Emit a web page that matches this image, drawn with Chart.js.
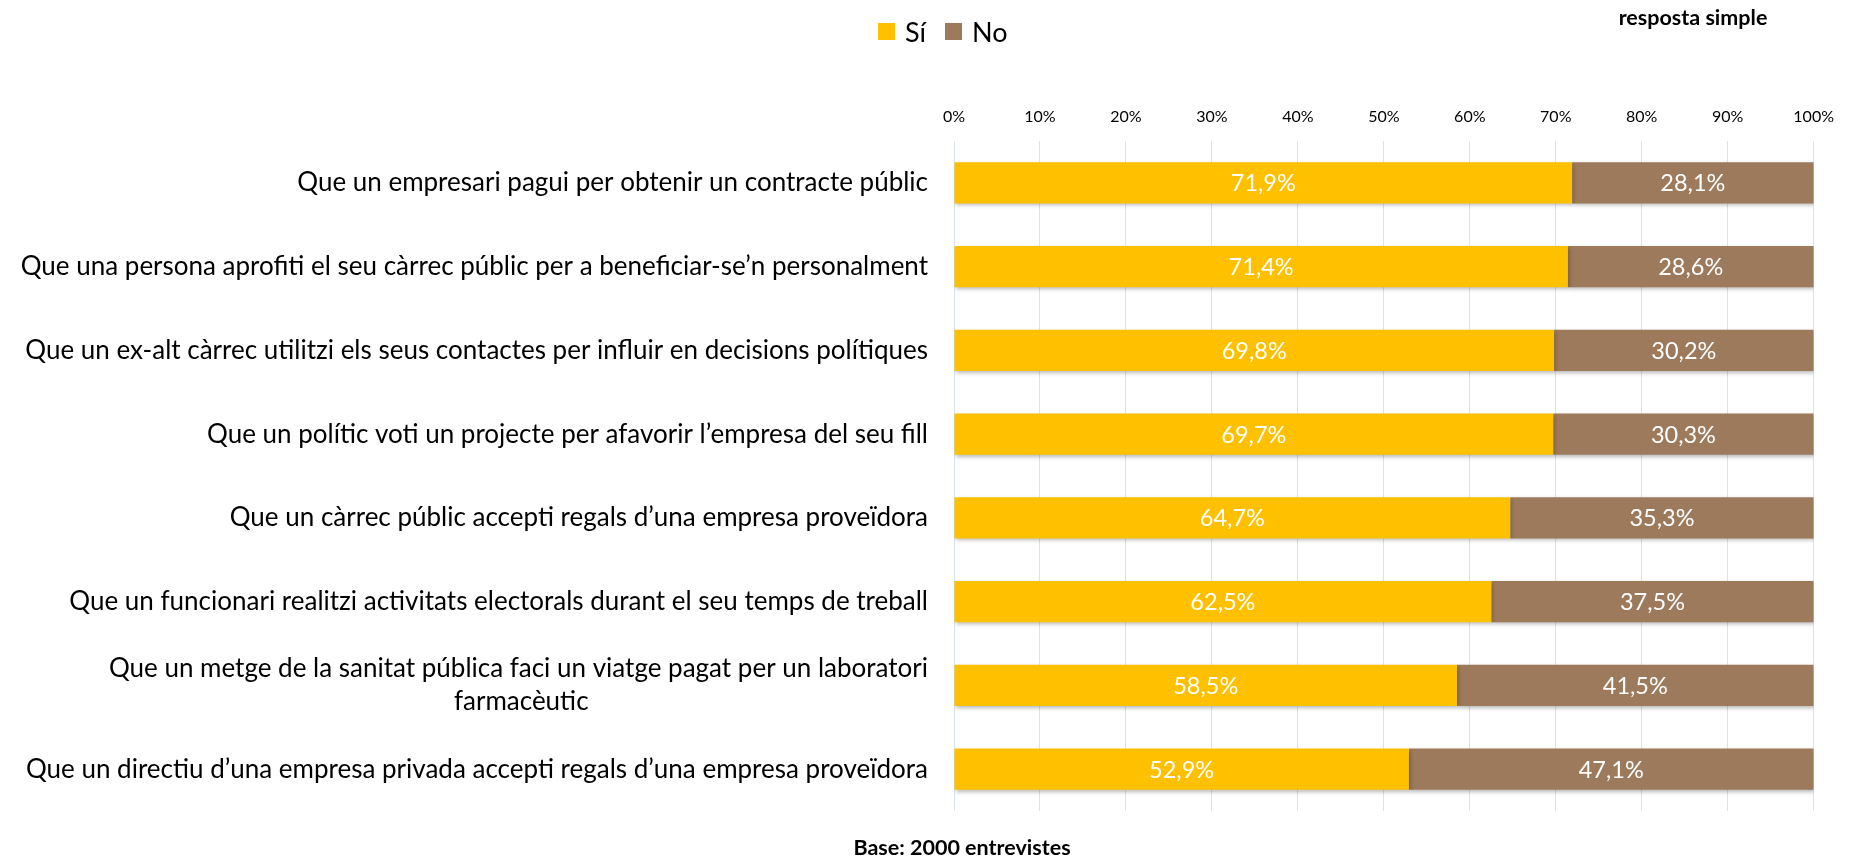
<!DOCTYPE html>
<html>
<head>
<meta charset="utf-8">
<script src="https://cdn.jsdelivr.net/npm/chart.js@4/dist/chart.umd.min.js"></script>
<style>
  html, body { margin: 0; padding: 0; background: #ffffff; }
  #wrap { position: relative; width: 1849px; height: 858px; }
</style>
</head>
<body>
<div id="wrap"><canvas id="c" width="1849" height="858"></canvas></div>
<script>
const categories = [
  "Que un empresari pagui per obtenir un contracte públic",
  "Que una persona aprofiti el seu càrrec públic per a beneficiar-se’n personalment",
  "Que un ex-alt càrrec utilitzi els seus contactes per influir en decisions polítiques",
  "Que un polític voti un projecte per afavorir l’empresa del seu fill",
  "Que un càrrec públic accepti regals d’una empresa proveïdora",
  "Que un funcionari realitzi activitats electorals durant el seu temps de treball",
  ["Que un metge de la sanitat pública faci un viatge pagat per un laboratori", "farmacèutic"],
  "Que un directiu d’una empresa privada accepti regals d’una empresa proveïdora"
];
const siValues = [71.9, 71.4, 69.8, 69.7, 64.7, 62.5, 58.5, 52.9];
const noValues = [28.1, 28.6, 30.2, 30.3, 35.3, 37.5, 41.5, 47.1];
const seriesNames = ["Sí", "No"];
const tickValues = [0, 10, 20, 30, 40, 50, 60, 70, 80, 90, 100];
const noteTopRight = "resposta simple";
const noteBottom = "Base: 2000 entrevistes";

const COLORS = ["#FFC000", "#9C7A5B"];
const FONT = "Lato, 'Open Sans', sans-serif";
const LABEL_FONT = "26px " + FONT;

const fmt = v => v.toFixed(1).replace(".", ",") + "%";

// Multi-line category labels: centre the following lines under the first one
// (as in the original), by padding them with trailing spaces.
const measureCtx = document.createElement("canvas").getContext("2d");
measureCtx.font = LABEL_FONT;
function centredLines(label) {
  if (!Array.isArray(label)) return label;
  const w0 = measureCtx.measureText(label[0]).width;
  const sp = measureCtx.measureText(" ").width;
  return label.map((line, i) => {
    if (i === 0) return line;
    const w = measureCtx.measureText(line).width;
    const n = Math.max(0, Math.round((w0 - w) / 2 / sp));
    return line + " ".repeat(n);
  });
}

const shadowPlugin = {
  id: "shadow",
  beforeDatasetsDraw(chart) {
    const ctx = chart.ctx;
    ctx.save();
    ctx.shadowColor = "rgba(0,0,0,0.28)";
    ctx.shadowBlur = 4;
    ctx.shadowOffsetX = 1;
    ctx.shadowOffsetY = 2;
  },
  afterDatasetsDraw(chart) {
    chart.ctx.restore();
  }
};

const labelPlugin = {
  id: "valueLabels",
  afterDatasetsDraw(chart) {
    const ctx = chart.ctx;
    ctx.save();
    ctx.fillStyle = "#ffffff";
    ctx.font = "23.5px " + FONT;
    ctx.textAlign = "center";
    ctx.textBaseline = "middle";
    chart.data.datasets.forEach((ds, di) => {
      const meta = chart.getDatasetMeta(di);
      meta.data.forEach((bar, i) => {
        const p = bar.getProps(["x", "y", "base"], true);
        const cx = (p.x + p.base) / 2;
        ctx.fillText(fmt(ds.data[i]), cx, p.y + 1);
      });
    });
    ctx.restore();
  }
};

const extrasPlugin = {
  id: "extras",
  afterDraw(chart) {
    const ctx = chart.ctx;
    ctx.save();
    // legend
    ctx.font = "27px " + FONT;
    ctx.textBaseline = "middle";
    ctx.textAlign = "left";
    let x = 878;
    const y = 32;
    seriesNames.forEach((name, i) => {
      ctx.fillStyle = COLORS[i];
      ctx.fillRect(x, y - 9, 17, 17);
      ctx.fillStyle = "#000000";
      ctx.fillText(name, x + 27, y + 1);
      x += 27 + ctx.measureText(name).width + 19;
    });
    // notes
    ctx.font = "bold 21.5px " + FONT;
    ctx.textAlign = "center";
    ctx.fillText(noteTopRight, 1693, 18);
    ctx.fillText(noteBottom, 962, 848);
    ctx.restore();
  }
};

new Chart(document.getElementById("c"), {
  type: "bar",
  data: {
    labels: categories.map(centredLines),
    datasets: [
      { label: seriesNames[0], data: siValues, backgroundColor: COLORS[0], borderWidth: 0 },
      { label: seriesNames[1], data: noValues, backgroundColor: COLORS[1], borderWidth: 0 }
    ]
  },
  options: {
    indexAxis: "y",
    responsive: false,
    animation: false,
    devicePixelRatio: 1,
    layout: { padding: { left: 0, right: 35, top: 0, bottom: 47 } },
    datasets: { bar: { categoryPercentage: 1, barPercentage: 0.49 } },
    plugins: { legend: { display: false }, tooltip: { enabled: false } },
    scales: {
      x: {
        position: "top",
        stacked: true,
        min: 0,
        max: 100,
        afterBuildTicks(scale) { scale.ticks = tickValues.map(v => ({ value: v })); },
        afterFit(scale) { scale.height = 141; },
        grid: { color: "#D9E3F2", lineWidth: 1, drawTicks: false },
        border: { display: false },
        ticks: {
          padding: 15,
          color: "#000000",
          font: { family: FONT, size: 16 },
          callback: v => v + "%"
        }
      },
      y: {
        stacked: true,
        afterFit(scale) { scale.width = 954; },
        grid: { display: false, drawTicks: false },
        border: { display: false },
        ticks: {
          padding: 26,
          color: "#000000",
          font: { family: FONT, size: 26, lineHeight: "33px" }
        }
      }
    }
  },
  plugins: [shadowPlugin, labelPlugin, extrasPlugin]
});
</script>
</body>
</html>
